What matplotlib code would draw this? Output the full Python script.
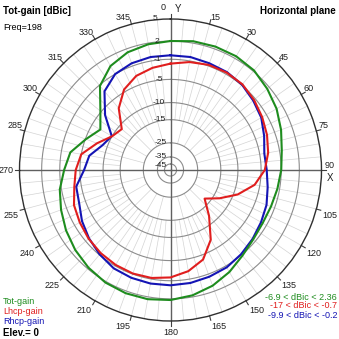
import numpy as np
import matplotlib.pyplot as plt

plt.rcParams['font.family'] = ['Liberation Sans', 'DejaVu Sans']

# azimuth in degrees, clockwise from Y (0) towards X (90)
azimuth = list(range(0, 360, 10))
tot_gain = [2.02, 2.28, 2.36, 2.36, 2.16, 1.6, 1.0, 0.2, -0.6, -1.0, -1.4, -1.7,
            -1.8, -1.5, -0.8, 0.22, 1.10, 1.75, 2.17, 2.34, 2.33, 2.17, 1.8, 1.3,
            0.7, 0.0, -0.7, -1.8, -2.7, -5.1, -6.9, -4.8, -1.18, 0.60, 1.44, 1.82]
lhcp_gain = [-1.8, -1.2, -0.8, -0.7, -0.8, -1.3, -1.9, -2.5, -3.2, -4.2, -6.0, -9.0,
             -13.0, -17.0, -12.0, -7.0, -4.0, -2.5, -1.6, -1.2, -1.1, -1.2, -1.4, -1.7,
             -2.1, -2.5, -3.5, -4.1, -5.0, -7.5, -10.0, -11.0, -7.0, -4.5, -3.0, -2.3]
rhcp_gain = [-0.3, -0.3, -0.5, -0.6, -0.9, -1.5, -2.1, -3.1, -4.0, -3.8, -3.3, -2.6,
             -2.15, -1.65, -1.15, -0.7, -0.5, -0.3, -0.2, -0.2, -0.3, -0.5, -1.1, -1.8,
             -2.6, -3.6, -3.9, -5.8, -6.6, -8.8, -9.9, -6.0, -2.5, -1.0, -0.5, -0.3]

ring_db = [5, 2, -1, -5, -10, -15, -25, -35, -45]

# ARRL-like log radial scale: dB -> fraction of the outer radius
scale_db = np.array([-60, -45, -35, -25, -15, -10, -5, -1, 2, 5], dtype=float)
scale_r = np.array([0.0, 6, 13, 27, 50, 67, 90, 110, 128, 150]) / 150.0


def fwd(x):
    x = np.asarray(x, dtype=float)
    out = np.exp(np.interp(x, scale_db[1:], np.log(scale_r[1:])))
    return np.where(x < scale_db[1], np.interp(x, scale_db[:2], scale_r[:2]), out)


def inv(r):
    r = np.asarray(r, dtype=float)
    out = np.interp(np.log(np.maximum(r, 1e-9)), np.log(scale_r[1:]), scale_db[1:])
    return np.where(r < scale_r[1], np.interp(r, scale_r[:2], scale_db[:2]), out)


W = H = 339
fig = plt.figure(figsize=(W / 100, H / 100), dpi=100)
cx, cy, R = 170.5, 170.0, 151.0
ax = fig.add_axes([(cx - R) / W, 1 - (cy + R) / H, 2 * R / W, 2 * R / H],
                  projection='polar')
ax.set_theta_zero_location('N')
ax.set_theta_direction(-1)
ax.set_rscale('function', functions=(fwd, inv))
ax.set_rlim(-60, 5)
ax.grid(False)
ax.set_xticks([])
ax.set_yticks([])
ax.spines['polar'].set_color('#303030')
ax.spines['polar'].set_linewidth(1.0)

full = np.linspace(0, 2 * np.pi, 721)
for db in ring_db[1:]:
    ax.plot(full, np.full_like(full, db), color='#8c8c8c', lw=0.8, zorder=1)

# spokes: every 5 deg in the outer band, every 15 deg further in
for a in range(0, 360, 5):
    t = np.deg2rad(a)
    ax.plot([t, t], [-15, 5], color='#d4d4d4', lw=0.5, zorder=0.5)
for a in range(0, 360, 15):
    t = np.deg2rad(a)
    ax.plot([t, t], [-25, -15], color='#d4d4d4', lw=0.5, zorder=0.5)

# axes through the centre
for a in (0, 90, 180, 270):
    t = np.deg2rad(a)
    ax.plot([t, t], [-60, 5], color='#606060', lw=1.0, zorder=2)

# pattern curves
th = np.deg2rad(azimuth + [azimuth[0]])
ax.plot(th, tot_gain + [tot_gain[0]], color='#1e8c1e', lw=1.5, zorder=5)
ax.plot(th, lhcp_gain + [lhcp_gain[0]], color='#e01e1e', lw=1.5, zorder=6)
ax.plot(th, rhcp_gain + [rhcp_gain[0]], color='#1414b4', lw=1.5, zorder=4)

# ring values just left of the vertical axis
for db in ring_db:
    rr = fwd(db) * R
    ox = max(4.0, rr * 0.085)
    yy = cy - rr
    if db == -45:
        yy += 1.5
    fig.text((cx - ox) / W, 1 - yy / H, str(db), ha='right', va='center',
             fontsize=6, color='#202020')

# azimuth ticks and labels
for a in range(0, 360, 15):
    t = np.deg2rad(a)
    s, c = np.sin(t), np.cos(t)
    ax.plot([0.5 + 0.5 * s, 0.5 + 0.5 * s * 1.03], [0.5 + 0.5 * c, 0.5 + 0.5 * c * 1.03],
            transform=ax.transAxes, color='#404040', lw=0.8, clip_on=False)
    if a in (0, 90):
        continue
    rl = 153 if c > 0 else 157
    lx = cx + rl * s
    ly = cy - rl * c
    ha = 'center' if abs(s) < 0.1 else ('left' if s > 0 else 'right')
    va = 'center' if abs(c) < 0.1 else ('bottom' if c > 0 else 'top')
    if a == 180:
        ly += 1
    fig.text(lx / W, 1 - ly / H, str(a), ha=ha, va=va, fontsize=6.5, color='#202020')

fig.text(166 / W, 1 - 7 / H, '0', ha='right', va='center', fontsize=6.5, color='#202020')
fig.text(175 / W, 1 - 9 / H, 'Y', ha='left', va='center', fontsize=7, color='#202020')
fig.text(325 / W, 1 - 166 / H, '90', ha='left', va='center', fontsize=6.5, color='#202020')
fig.text(327 / W, 1 - 178 / H, 'X', ha='left', va='center', fontsize=7, color='#202020')

fig.text(3 / W, 1 - 11 / H, 'Tot-gain [dBic]', ha='left', va='center',
         fontsize=7, fontweight='bold')
fig.text(3 / W, 1 - 28 / H, 'Freq=198', ha='left', va='center', fontsize=6.5)
fig.text(336 / W, 1 - 11 / H, 'Horizontal plane', ha='right', va='center',
         fontsize=7, fontweight='bold')

fig.text(3 / W, 1 - 302 / H, 'Tot-gain', color='#1e8c1e', fontsize=6.5, va='center')
fig.text(3 / W, 1 - 312 / H, 'Lhcp-gain', color='#e01e1e', fontsize=6.5, va='center')
fig.text(3 / W, 1 - 322 / H, 'Rhcp-gain', color='#1414b4', fontsize=6.5, va='center')
fig.text(3 / W, 1 - 333 / H, 'Elev.= 0', color='black', fontsize=7, va='center',
         fontweight='bold')

fig.text(337 / W, 1 - 297 / H, '-6.9 < dBic < 2.36', color='#1e8c1e', fontsize=6.5,
         ha='right', va='center')
fig.text(337 / W, 1 - 306 / H, '-17 < dBic < -0.7', color='#e01e1e', fontsize=6.5,
         ha='right', va='center')
fig.text(337 / W, 1 - 315 / H, '-9.9 < dBic < -0.2', color='#1414b4', fontsize=6.5,
         ha='right', va='center')

fig.savefig('out.png', dpi=100)
